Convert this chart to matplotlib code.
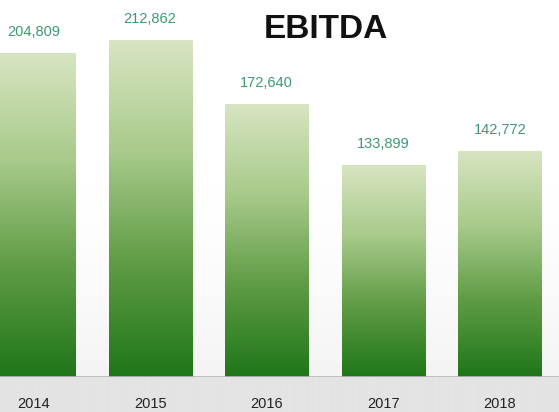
import matplotlib.pyplot as plt
import numpy as np
from matplotlib.colors import LinearSegmentedColormap

# EBITDA by year
years = ["2014", "2015", "2016", "2017", "2018"]
ebitda = [204809, 212862, 172640, 133899, 142772]

W, H, DPI = 559, 412, 100
base_px = 35  # height of the grey strip under the bars

fig = plt.figure(figsize=(W / DPI, H / DPI), dpi=DPI)

# background: near white above the baseline, light grey strip below it
bg = fig.add_axes([0, 0, 1, 1], zorder=0)
bg.axis("off")
rows = np.zeros(H)
top = H - base_px
rows[180:top] = np.linspace(0, 0.55, top - 180) ** 1.5
rows[top:] = 1.0
bg_cmap = LinearSegmentedColormap.from_list("bg", ["#ffffff", "#e4e4e4"])
bg.imshow(rows[:, None], cmap=bg_cmap, aspect="auto", extent=[0, 1, 0, 1],
          origin="upper", vmin=0, vmax=1)
bg.set_xlim(0, 1)
bg.set_ylim(0, 1)

ax = fig.add_axes([0, base_px / H, 1, 1 - base_px / H], zorder=1)
ax.patch.set_alpha(0)
x = np.arange(len(years))
bars = ax.bar(x, ebitda, width=0.712, color="none", edgecolor="none")
ax.set_xlim(-0.287, 4.507)
ax.set_ylim(0, 238150)

# vertical gradient inside every bar
bar_cmap = LinearSegmentedColormap.from_list(
    "bar", ["#d8e5c2", "#a8ca8a", "#5e9b44", "#1f7619"])
grad = np.linspace(0, 1, 256)[:, None]
for b in bars:
    x0, w, h = b.get_x(), b.get_width(), b.get_height()
    im = ax.imshow(grad, cmap=bar_cmap, aspect="auto", origin="upper",
                   extent=[x0, x0 + w, 0, h], zorder=2)
    im.set_clip_path(b)

for xi, v in zip(x, ebitda):
    ax.annotate(f"{v:,}", (xi, v), xytext=(0, 10), textcoords="offset points",
                ha="center", va="bottom", fontsize=10.5, color="#3d9a72",
                family="Liberation Sans")

ax.axhline(0, color="#b4b4bc", lw=1.2, zorder=3)

for s in ax.spines.values():
    s.set_visible(False)
ax.set_yticks([])
ax.set_xticks(x)
ax.set_xticklabels(years, family="Liberation Sans", fontsize=10.5,
                   color="#222222")
ax.tick_params(axis="x", length=0, pad=14.5)

fig.text(326 / W, 1 - 29 / H, "EBITDA", ha="center", va="center",
         fontsize=24, fontweight="bold", family="Liberation Sans", color="#111111")

fig.savefig("out.png", dpi=DPI)
